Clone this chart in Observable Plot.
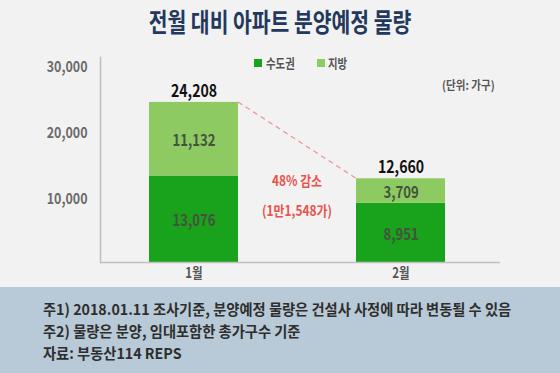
<!DOCTYPE html>
<html><head><meta charset="utf-8">
<script src="https://cdn.jsdelivr.net/npm/d3@7"></script>
<script src="https://cdn.jsdelivr.net/npm/@observablehq/plot@0.6"></script>
<style>
body{margin:0;background:#f2f2f2;}
#wrap{position:relative;width:560px;height:373px;overflow:hidden;background:#f2f2f2;font-family:"Noto Sans CJK KR","Noto Sans",sans-serif;}
.abs{position:absolute;white-space:nowrap;}
#title{left:0;top:7px;width:560px;text-align:center;font-size:26px;line-height:28px;font-weight:bold;color:#22395d;transform:scaleX(0.785);}
.sq{position:absolute;width:8px;height:8px;}
.lg{font-size:13px;line-height:16px;font-weight:bold;color:#555;transform:scaleX(0.8);transform-origin:left center;}
#unit{left:442px;top:77px;font-size:12px;line-height:16px;color:#555;font-weight:bold;transform:scaleX(0.88);transform-origin:left center;}
#chart{position:absolute;left:0;top:0;}
#footer{position:absolute;left:0;top:287px;width:560px;height:86px;background:#b8cad7;}
.note{position:absolute;left:43px;font-size:15px;line-height:22px;font-weight:bold;color:#2e2e2e;white-space:nowrap;transform:scaleX(0.95);transform-origin:left center;}
</style></head><body><div id="wrap">
<div id="chart"></div>
<div id="title" class="abs"></div>
<div id="legend"></div>
<div id="unit" class="abs"></div>
<div id="footer"></div>
</div>
<script>
const months = ["1월", "2월"];
const capital = [13076, 8951];
const regional = [11132, 3709];
const totals = [24208, 12660];
const seriesNames = ["수도권", "지방"];
const seriesColors = ["#19a21b", "#8dcb62"];
const yTicks = [10000, 20000, 30000];
const titleText = "전월 대비 아파트 분양예정 물량";
const unitText = "(단위: 가구)";
const changeLabels = ["48% 감소", "(1만1,548가)"];
const notes = [
  "주1) 2018.01.11 조사기준, 분양예정 물량은 건설사 사정에 따라 변동될 수 있음",
  "주2) 물량은 분양, 임대포함한 총가구수 기준",
  "자료: 부동산114 REPS"
];

const fmt = d3.format(",");
const rows = [];
months.forEach((m, i) => {
  rows.push({month: m, series: seriesNames[0], value: capital[i]});
  rows.push({month: m, series: seriesNames[1], value: regional[i]});
});
const totalRows = months.map((m, i) => ({month: m, total: totals[i]}));

const plot = Plot.plot({
  width: 560, height: 287,
  marginLeft: 100, marginRight: 60, marginTop: 57, marginBottom: 25,
  style: {background: "transparent", fontFamily: "'Noto Sans CJK KR', sans-serif", overflow: "visible"},
  x: {domain: months, paddingInner: 0.572, paddingOuter: 0.2476, align: 0.466, label: null},
  y: {domain: [0, 31000], label: null},
  color: {domain: seriesNames, range: seriesColors},
  marks: [
    Plot.barY(rows, {x: "month", y: "value", fill: "series"}),
    Plot.frame({anchor: "left", stroke: "#bdbdbd", strokeWidth: 1.5}),
    Plot.ruleY([0], {stroke: "#bfbfbf", strokeWidth: 1.5}),
    Plot.text(rows, Plot.stackY({x: "month", y: "value", z: "series", text: d => fmt(d.value), fill: "#46523e", fontSize: 16, fontWeight: "bold", dy: 2, className: "inner"})),
    Plot.text(totalRows, {x: "month", y: "total", text: d => fmt(d.total), fill: "#111", fontSize: 17, fontWeight: "bold", dy: -11, className: "tot"}),
    Plot.axisY({ticks: yTicks, tickSize: 0, tickPadding: 13, tickFormat: fmt, fontSize: 15, dy: 3}),
    Plot.axisX({tickSize: 0, tickPadding: 6, fontSize: 14})
  ]
});
document.getElementById("chart").appendChild(plot);

const svg = d3.select(plot);
svg.selectAll('g[aria-label="y-axis tick label"]').attr("fill", "#6a6a6a").attr("font-weight", "bold");
svg.selectAll('g[aria-label="x-axis tick label"]').attr("fill", "#555").attr("font-weight", "bold");

// dashed connector between bar tops, via scales
const xs = plot.scale("x"), ys = plot.scale("y");
const bw = xs.bandwidth;
const ax = xs.apply(months[0]) + bw, ay = ys.apply(totals[0]);
const bx = xs.apply(months[1]), by = ys.apply(totals[1]);
svg.append("line").attr("x1", ax).attr("y1", ay).attr("x2", bx).attr("y2", by)
  .attr("stroke", "#f09090").attr("stroke-width", 1.2).attr("stroke-dasharray", "5,4");
const mx = (ax + bx) / 2;
changeLabels.forEach((t, i) => {
  svg.append("text").attr("class", "chg").attr("x", mx).attr("y", by + 4 + i * 30)
    .attr("text-anchor", "middle").attr("dominant-baseline", "middle")
    .attr("fill", "#e8534b").attr("font-size", 14).attr("font-weight", "bold").text(t);
});

function condense(sel, k) {
  sel.each(function() {
    const L = this.getComputedTextLength();
    this.setAttribute("textLength", L * k);
    this.setAttribute("lengthAdjust", "spacingAndGlyphs");
  });
}
condense(svg.selectAll('g[aria-label="y-axis tick label"] text'), 0.83);
condense(svg.selectAll('g[aria-label="x-axis tick label"] text'), 0.82);
condense(svg.selectAll('.inner text'), 0.82);
condense(svg.selectAll('.tot text'), 0.83);
condense(svg.selectAll('text.chg'), 0.85);

// HTML texts
document.getElementById("title").textContent = titleText;
document.getElementById("unit").textContent = unitText;
const lg = document.getElementById("legend");
const lgPos = [[254, 266], [317, 328]];
seriesNames.forEach((s, i) => {
  const sq = document.createElement("div");
  sq.className = "sq"; sq.style.left = lgPos[i][0] + "px"; sq.style.top = "59px"; sq.style.background = seriesColors[i];
  lg.appendChild(sq);
  const t = document.createElement("div");
  t.className = "abs lg"; t.style.left = lgPos[i][1] + "px"; t.style.top = "55px"; t.textContent = s;
  lg.appendChild(t);
});
const ft = document.getElementById("footer");
notes.forEach((n, i) => {
  const d = document.createElement("div");
  d.className = "note"; d.style.top = (11 + i * 22) + "px"; d.textContent = n;
  ft.appendChild(d);
});
</script>
</body></html>
